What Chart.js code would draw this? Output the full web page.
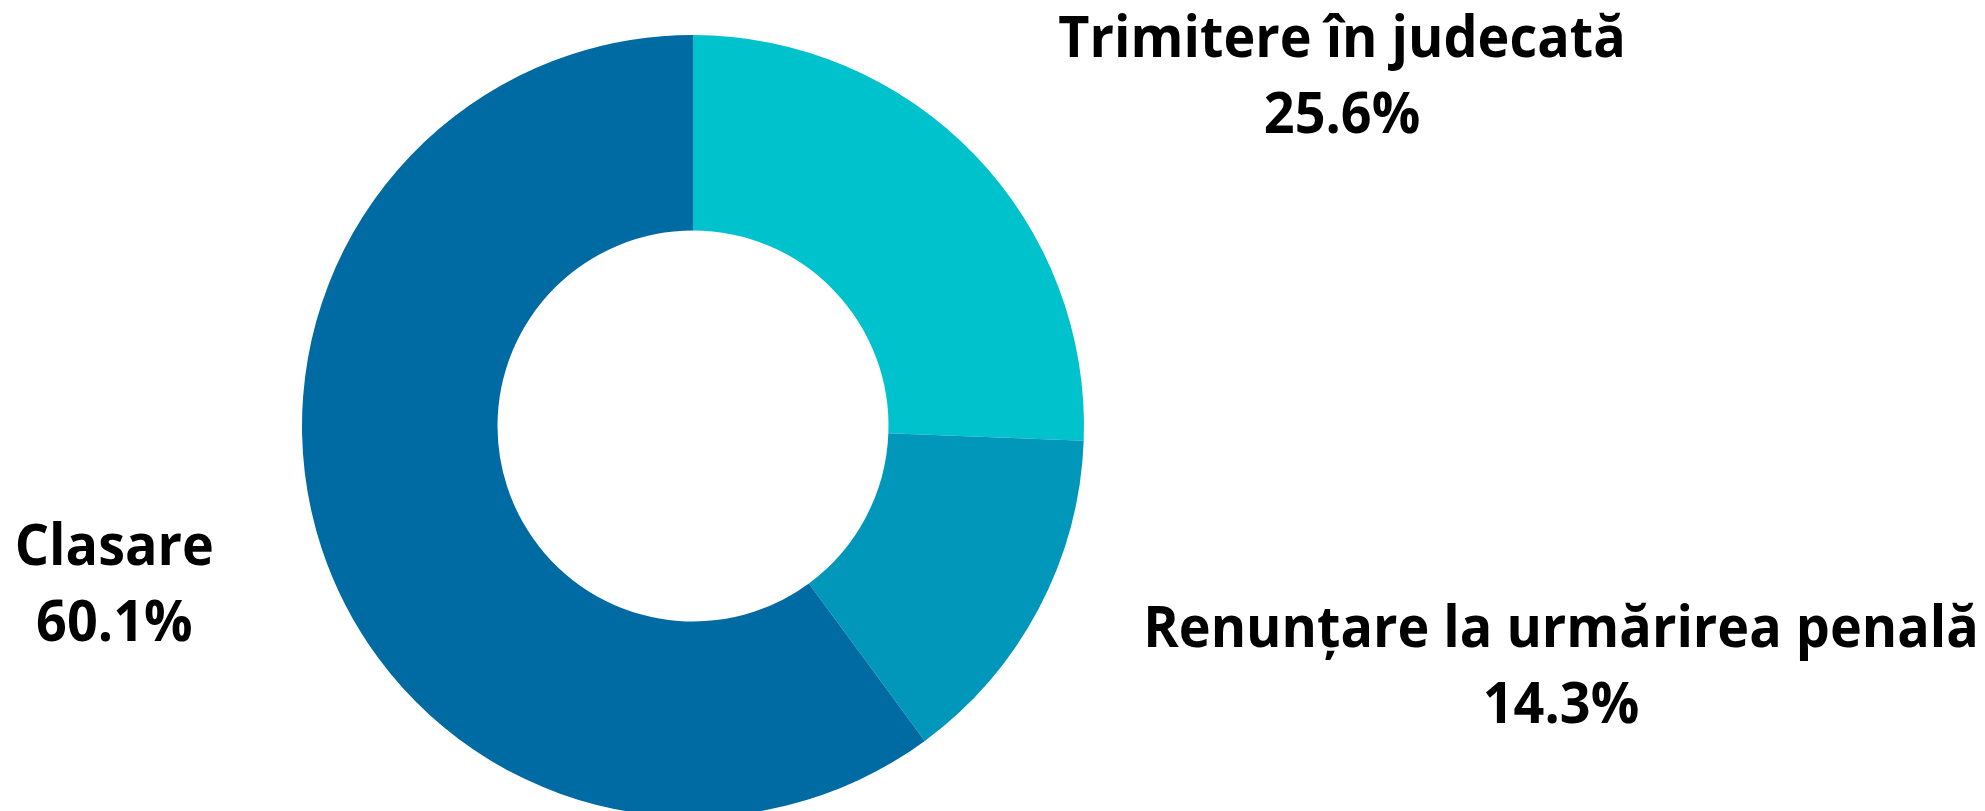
<!DOCTYPE html>
<html lang="ro">
<head>
    <meta charset="UTF-8">
    <title>Soluții</title>
    <style>
        html, body { margin: 0; padding: 0; overflow: hidden; background: #ffffff; }
        #wrap { position: relative; width: 1985px; height: 852px; }
    </style>
</head>
<body>
    <div id="wrap"><canvas id="donut"></canvas></div>

    <script src="https://cdn.jsdelivr.net/npm/chart.js"></script>
    <script>
        // date
        const labels = ['Trimitere în judecată', 'Renunțare la urmărirea penală', 'Clasare'];
        const values = [25.6, 14.3, 60.1];
        const colors = ['#00c2cc', '#0097bb', '#006ba3'];

        // pozitia etichetelor, in raze fata de centrul graficului
        const labelOffsets = [[1.66, -0.89], [2.22, 0.62], [-1.48, 0.41]];

        const outerLabels = {
            id: 'outerLabels',
            afterDatasetsDraw(chart) {
                const ctx = chart.ctx;
                const arc = chart.getDatasetMeta(0).data[0];
                const cx = arc.x, cy = arc.y, r = arc.outerRadius;
                const sx = 0.93; // textul din original e putin mai ingust
                ctx.save();
                ctx.fillStyle = '#000000';
                ctx.font = 'bold 58px "Open Sans"';
                ctx.textAlign = 'center';
                ctx.textBaseline = 'middle';
                labels.forEach((lab, i) => {
                    const x = cx + labelOffsets[i][0] * r;
                    const y = cy + labelOffsets[i][1] * r;
                    ctx.save();
                    ctx.translate(x, y);
                    ctx.scale(sx, 1);
                    ctx.fillText(lab, 0, -38);
                    ctx.fillText(values[i].toFixed(1) + '%', 0, 38);
                    ctx.restore();
                });
                ctx.restore();
            }
        };

        new Chart(document.getElementById('donut'), {
            type: 'doughnut',
            data: {
                labels: labels,
                datasets: [{
                    data: values,
                    backgroundColor: colors,
                    borderWidth: 0
                }]
            },
            options: {
                responsive: true,
                maintainAspectRatio: false,
                animation: false,
                cutout: '50%',
                layout: { padding: { top: 35, bottom: 35, left: 302, right: 901 } },
                plugins: {
                    legend: { display: false },
                    tooltip: { enabled: false }
                }
            },
            plugins: [outerLabels]
        });
    </script>
</body>
</html>
